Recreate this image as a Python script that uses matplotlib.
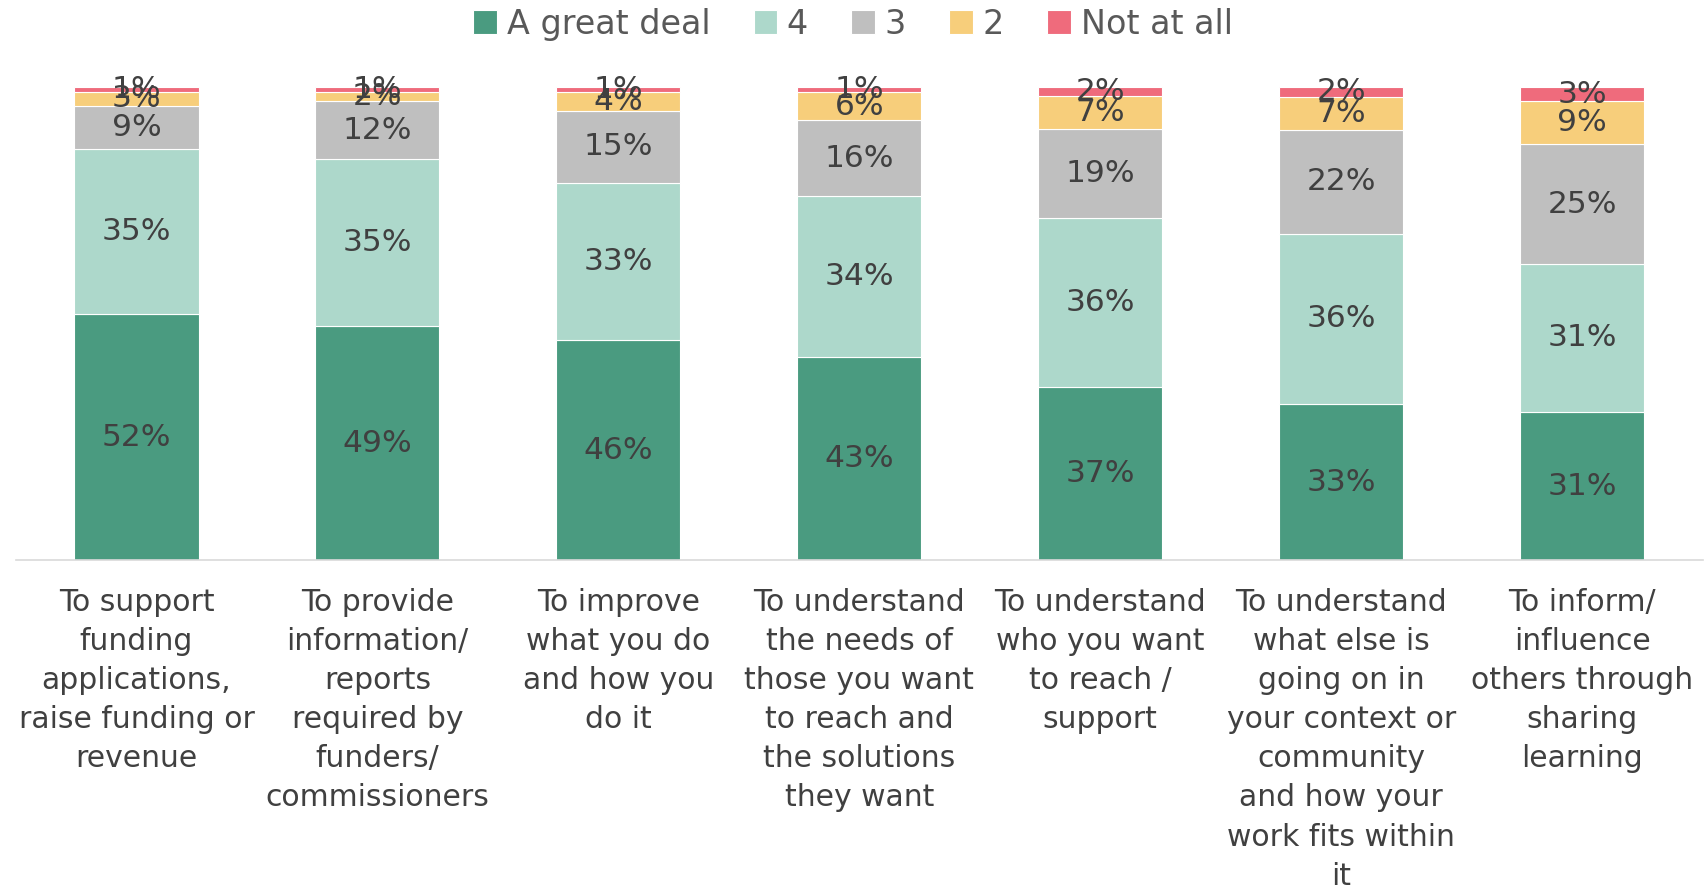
import numpy as np
import matplotlib.pyplot as plt

categories = [
    "To support\nfunding\napplications,\nraise funding or\nrevenue",
    "To provide\ninformation/\nreports\nrequired by\nfunders/\ncommissioners",
    "To improve\nwhat you do\nand how you\ndo it",
    "To understand\nthe needs of\nthose you want\nto reach and\nthe solutions\nthey want",
    "To understand\nwho you want\nto reach /\nsupport",
    "To understand\nwhat else is\ngoing on in\nyour context or\ncommunity\nand how your\nwork fits within\nit",
    "To inform/\ninfluence\nothers through\nsharing\nlearning",
]
series_names = ["A great deal", "4", "3", "2", "Not at all"]
great_deal = [52, 49, 46, 43, 37, 33, 31]
four = [35, 35, 33, 34, 36, 36, 31]
three = [9, 12, 15, 16, 19, 22, 25]
two = [3, 2, 4, 6, 7, 7, 9]
not_at_all = [1, 1, 1, 1, 2, 2, 3]

colors = ["#4A9B80", "#ADD8CB", "#BFBFBF", "#F7CE7B", "#EF6B7C"]
series = [great_deal, four, three, two, not_at_all]

data = np.array(series, dtype=float)
shares = data / data.sum(axis=0) * 100

fig = plt.figure(figsize=(17.06, 8.89), dpi=100)
ax = fig.add_axes([0.0094, 0.37, 0.9886, 0.532])
x = np.arange(len(categories))
bottom = np.zeros(len(categories))
for name, vals, share, col in zip(series_names, series, shares, colors):
    ax.bar(x, share, 0.515, bottom=bottom, color=col, label=name,
           edgecolor="white", linewidth=0.8)
    for xi, b, s, v in zip(x, bottom, share, vals):
        ax.text(xi, b + s / 2, f"{v}%", ha="center", va="center",
                fontsize=22.5, color="#404040")
    bottom += share

ax.set_xlim(-0.5, len(categories) - 0.5)
ax.set_ylim(0, 100)
ax.set_yticks([])
ax.set_xticks(x)
ax.set_xticklabels(categories, fontsize=21.5, color="#404040", linespacing=1.44)
ax.tick_params(axis="x", length=0, pad=20)
for s in ["top", "left", "right"]:
    ax.spines[s].set_visible(False)
ax.spines["bottom"].set_color("#D9D9D9")
ax.spines["bottom"].set_linewidth(1.2)

fig.legend(loc="upper center", bbox_to_anchor=(0.5, 1.025), ncol=5, frameon=False,
           fontsize=24, labelcolor="#595959", handlelength=0.7, handleheight=0.7,
           handletextpad=0.3, columnspacing=1.3)

fig.savefig("out.png", dpi=100)
